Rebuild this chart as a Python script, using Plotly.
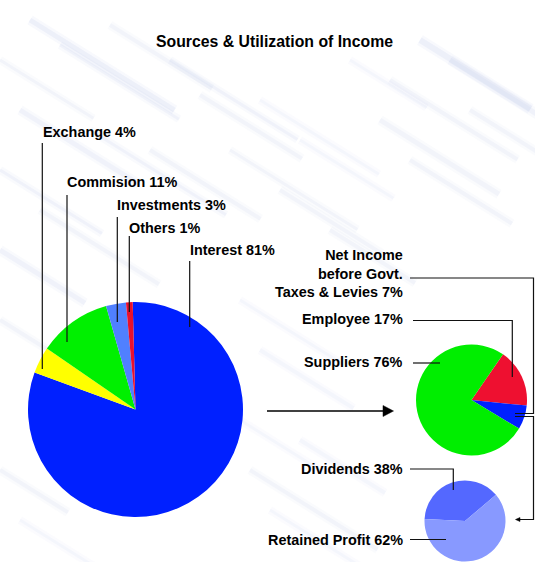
import plotly.graph_objects as go

W, H = 535, 562

# --- data -----------------------------------------------------------------
source_labels = ["Interest", "Exchange", "Commision", "Investments", "Others"]
source_values = [81, 4, 11, 3, 1]
source_colors = ["#0020FF", "#FFFF00", "#00F000", "#5080FF", "#E8102E"]

util_labels = ["Employee", "Net Income before Govt. Taxes & Levies", "Suppliers"]
util_values = [17, 7, 76]
util_colors = ["#EE1030", "#0020FF", "#00EE00"]

profit_labels = ["Dividends", "Retained Profit"]
profit_values = [38, 62]
profit_colors = ["#5468FF", "#8899FF"]

TITLE = "Sources & Utilization of Income"
FONT = "Liberation Sans, Arial, Helvetica, sans-serif"
LABEL_SIZE = 14.4
TITLE_SIZE = 15.8


def px(x):
    return x / W


def py(y):
    return 1 - y / H


def pie_domain(cx, cy, r):
    return dict(x=[px(cx - r), px(cx + r)], y=[py(cy + r), py(cy - r)])


fig = go.Figure()

fig.add_trace(go.Pie(
    labels=source_labels, values=source_values, sort=False,
    direction="clockwise", rotation=-1.5,
    marker=dict(colors=source_colors, line=dict(width=0)),
    textinfo="none", domain=pie_domain(135.5, 409.5, 107.5),
    showlegend=False,
))
fig.add_trace(go.Pie(
    labels=util_labels, values=util_values, sort=False,
    direction="clockwise", rotation=34.6,
    marker=dict(colors=util_colors, line=dict(width=0)),
    textinfo="none", domain=pie_domain(471.5, 400, 55.5),
    showlegend=False,
))
fig.add_trace(go.Pie(
    labels=profit_labels, values=profit_values, sort=False,
    direction="clockwise", rotation=273,
    marker=dict(colors=profit_colors, line=dict(width=0)),
    textinfo="none", domain=pie_domain(465, 521, 40.5),
    showlegend=False,
))

shapes = []

# faint, soft diagonal streaks in the backdrop
streaks = [
    # x0, y0, length, width, alpha
    (30, 20, 170, 5, 0.35), (60, 45, 140, 3, 0.30), (110, 25, 120, 4, 0.25),
    (170, 60, 150, 3, 0.30), (200, 95, 120, 4, 0.25), (0, 60, 110, 3, 0.25),
    (20, 110, 140, 5, 0.30), (90, 130, 160, 3, 0.30), (150, 150, 130, 4, 0.25),
    (0, 170, 120, 3, 0.30), (40, 210, 140, 4, 0.25), (0, 250, 100, 5, 0.30),
    (230, 150, 150, 3, 0.25), (280, 190, 120, 4, 0.25), (300, 140, 110, 3, 0.20),
    (330, 230, 100, 4, 0.25), (260, 100, 140, 3, 0.20), (420, 40, 130, 6, 0.35),
    (450, 60, 110, 5, 0.30), (390, 80, 150, 4, 0.25), (380, 120, 140, 5, 0.25),
    (410, 160, 120, 4, 0.25), (350, 60, 90, 3, 0.20), (470, 110, 80, 4, 0.25),
    (0, 320, 60, 4, 0.25), (0, 470, 80, 4, 0.25), (20, 520, 90, 3, 0.20),
    (250, 470, 150, 4, 0.25), (270, 510, 120, 3, 0.20), (300, 440, 100, 4, 0.20),
    (240, 300, 120, 3, 0.20), (260, 350, 110, 4, 0.20), (240, 420, 100, 3, 0.20),
]
dx, dy = 0.85, 0.53
for x0, y0, ln, wd, a in streaks:
    for extra, k in ((5, 0.35), (0, 0.55)):
        shapes.append(dict(
            type="line", xref="paper", yref="paper", layer="below",
            x0=px(x0), y0=py(y0), x1=px(x0 + ln * dx), y1=py(y0 + ln * dy),
            line=dict(color=f"rgba(195,205,235,{a * k:.3f})", width=wd + extra),
        ))


def polyline(pts, color="#111111", width=1.2):
    path = "M " + " L ".join(f"{px(x)},{py(y)}" for x, y in pts)
    shapes.append(dict(type="path", xref="paper", yref="paper", path=path,
                       line=dict(color=color, width=width)))


def triangle(pts):
    path = "M " + " L ".join(f"{px(x)},{py(y)}" for x, y in pts) + " Z"
    shapes.append(dict(type="path", xref="paper", yref="paper", path=path,
                       fillcolor="#000000", line=dict(color="#000000", width=0.5)))


# leader lines for the sources pie
polyline([(42.3, 143), (42.3, 369)])
polyline([(67, 195), (67, 342)])
polyline([(117.3, 217), (117.3, 322)])
polyline([(129.3, 236), (129.3, 312)])
polyline([(189.7, 261), (189.7, 327)])

# leader lines for the utilisation pies
polyline([(410, 278), (533.5, 278), (533.5, 413.5), (515, 413.5)])
polyline([(413, 320.5), (512.3, 320.5), (512.3, 377)])
polyline([(413, 363), (440, 363)])
polyline([(410, 469), (453.3, 469), (453.3, 490)])
polyline([(410, 539.5), (446, 539.5)])
polyline([(515, 416.5), (533.5, 416.5), (533.5, 519.5), (519, 519.5)])
triangle([(515.5, 519.5), (520, 517.5), (520, 521.5)])

# main arrow between the pies
polyline([(267, 411), (385, 411)], color="#000000", width=1.5)
triangle([(393.5, 411), (383, 405.5), (383, 416.5)])

annotations = [dict(
    text=f"<b>{TITLE}</b>", x=px(275), y=py(42), xref="paper", yref="paper",
    showarrow=False, xanchor="center", yanchor="middle",
    font=dict(family=FONT, size=TITLE_SIZE, color="#000000"),
)]

left_labels = [
    ("Exchange 4%", 40.5, 132),
    ("Commision 11%", 64.5, 182),
    ("Investments 3%", 114.5, 204.5),
    ("Others 1%", 126.5, 227.5),
    ("Interest 81%", 188, 250),
]
for txt, x, y in left_labels:
    annotations.append(dict(
        text=f"<b>{txt}</b>", x=px(x), y=py(y), xref="paper", yref="paper",
        showarrow=False, xanchor="left", yanchor="middle",
        font=dict(family=FONT, size=LABEL_SIZE, color="#000000"),
    ))

right_labels = [
    ("Net Income<br>before Govt.<br>Taxes & Levies 7%", 405, 273),
    ("Employee 17%", 405, 319),
    ("Suppliers 76%", 405, 362),
    ("Dividends 38%", 405, 469),
    ("Retained Profit 62%", 405, 540),
]
for txt, x, y in right_labels:
    annotations.append(dict(
        text=f"<b>{txt}</b>", x=px(x), y=py(y), xref="paper", yref="paper",
        showarrow=False, xanchor="right", yanchor="middle", align="right",
        font=dict(family=FONT, size=LABEL_SIZE, color="#000000"),
    ))

fig.update_layout(
    width=W, height=H, margin=dict(l=0, r=0, t=0, b=0),
    paper_bgcolor="#FFFFFF", plot_bgcolor="#FFFFFF",
    shapes=shapes, annotations=annotations, showlegend=False,
)

fig.write_html("out.html")
